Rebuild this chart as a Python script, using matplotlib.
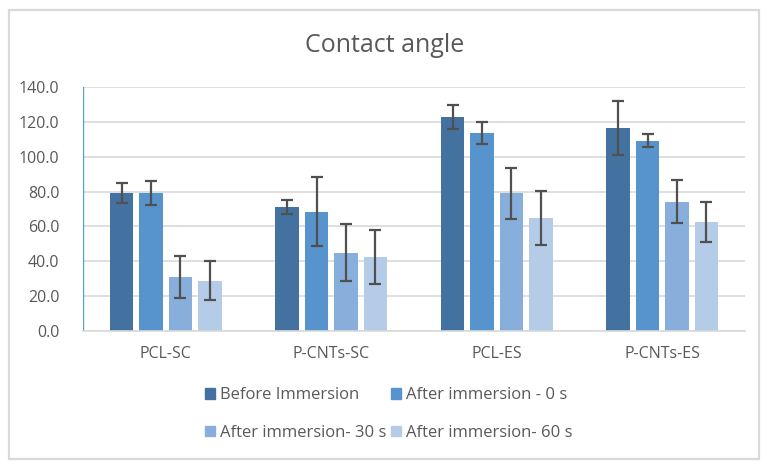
import matplotlib
matplotlib.use("Agg")
import matplotlib.pyplot as plt
import numpy as np
from matplotlib.patches import Rectangle

categories = ["PCL-SC", "P-CNTs-SC", "PCL-ES", "P-CNTs-ES"]
series = ["Before Immersion", "After immersion - 0 s", "After immersion- 30 s", "After immersion- 60 s"]
before = [79.3, 71.2, 122.7, 116.6]
after0 = [79.2, 68.4, 113.7, 109.2]
after30 = [31.0, 45.0, 78.9, 74.1]
after60 = [28.9, 42.5, 64.9, 62.6]
err_before = [5.6, 4.1, 6.7, 15.5]
err_after0 = [7.0, 19.8, 6.4, 3.8]
err_after30 = [12.1, 16.2, 14.7, 12.4]
err_after60 = [11.2, 15.6, 15.3, 11.5]
yticks = [0, 20, 40, 60, 80, 100, 120, 140]

values = [before, after0, after30, after60]
errors = [err_before, err_after0, err_after30, err_after60]
colors = ["#4472A0", "#5793CD", "#88AEDC", "#B5CCE9"]

plt.rcParams['font.family'] = ['Open Sans', 'DejaVu Sans']
W, H = 767, 469
fig = plt.figure(figsize=(W/100, H/100), dpi=100)
fig.patch.set_facecolor("white")

# outer border
fig.patches.append(Rectangle((9/W, 1-459/H), (759-9)/W, (459-10)/H, transform=fig.transFigure,
                             fill=False, edgecolor="#D9D9D9", linewidth=1.6))

ax = fig.add_axes([83/W, 1-331/H, (745-83)/W, (331-87)/H])
x = np.arange(len(categories))
step = 0.178
width = 0.142
for i, (vals, errs, c) in enumerate(zip(values, errors, colors)):
    xs = x + (i-1.5)*step
    ax.bar(xs, vals, width=width, color=c, zorder=2, label=series[i])
    ax.errorbar(xs, vals, yerr=errs, fmt='none', ecolor="#505050", elinewidth=1.6,
                capsize=4.5, capthick=1.6, zorder=3)

ax.set_xlim(-0.5, 3.5)
ax.set_ylim(0, 140)
ax.set_yticks(yticks)
ax.set_yticklabels([f"{v:.1f}" for v in yticks], fontsize=11.5, color="#595959")
ax.set_xticks(x)
ax.set_xticklabels(categories, fontsize=11.5, color="#595959")
ax.tick_params(axis='both', length=0)
ax.tick_params(axis='y', pad=17)
ax.tick_params(axis='x', pad=11)
ax.grid(axis='y', color="#D9D9D9", linewidth=1.2, zorder=0)
ax.set_axisbelow(True)
for s in ['top', 'right', 'left']:
    ax.spines[s].set_visible(False)
ax.spines['bottom'].set_color("#D9D9D9")
ax.spines['bottom'].set_linewidth(1.2)
# blue vertical line on left of plot area
ax.axvline(-0.5, color="#5B9BD5", linewidth=1.0, zorder=1)

fig.text(385/W, 1-45/H, "Contact angle", ha='center', va='center', fontsize=18, color="#595959")

order = [0, 2, 1, 3]
handles = [Rectangle((0, 0), 1, 1, color=colors[k]) for k in order]
labels = [series[k] for k in order]
leg = fig.legend(handles, labels, loc='center', bbox_to_anchor=(389/W, 1-414/H), ncol=2,
                 frameon=False, fontsize=12, handlelength=0.6, handleheight=0.6,
                 handletextpad=0.3, columnspacing=0.3, labelspacing=1.3)
for t in leg.get_texts():
    t.set_color("#595959")

fig.savefig("out.png", dpi=100, facecolor="white")
